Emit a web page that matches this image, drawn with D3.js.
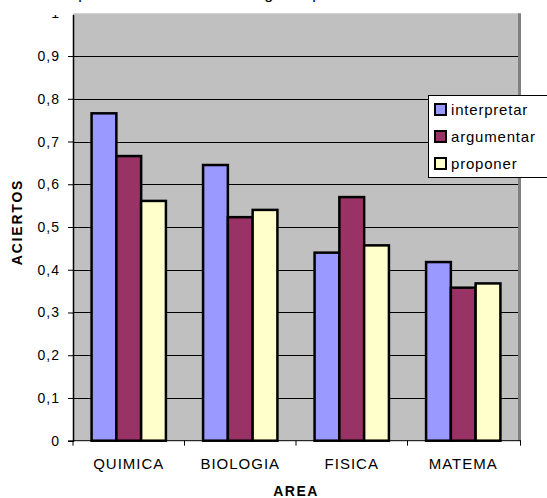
<!DOCTYPE html>
<html>
<head>
<meta charset="utf-8">
<script src="https://cdn.jsdelivr.net/npm/d3@7"></script>
<style>
  body { margin: 0; background: #fff; }
  text { font-family: Arial, "Liberation Sans", sans-serif; fill: #000; }
</style>
</head>
<body>
<div id="viz"></div>
<script>
const width = 547;
const height = 498;
const plot = {left: 73, right: 519, top: 13.3, bottom: 440.7};

const categories = ['QUIMICA', 'BIOLOGIA', 'FISICA', 'MATEMA'];
const series = ['interpretar', 'argumentar', 'proponer'];
const interpretar = [0.766, 0.645, 0.44, 0.418];
const argumentar = [0.666, 0.523, 0.57, 0.358];
const proponer = [0.561, 0.54, 0.457, 0.368];
const yTicks = [0, 0.1, 0.2, 0.3, 0.4, 0.5, 0.6, 0.7, 0.8, 0.9, 1];
const colors = ['#9999FF', '#993366', '#FFFFCC'];
const title = 'Aciertos promedio en cada área según la prueba';

const values = {interpretar, argumentar, proponer};

const svg = d3.select('#viz')
  .append('svg')
    .style('display', 'block')
    .attr('width', width)
    .attr('height', height);

const xScale = d3.scaleBand()
  .domain(categories)
  .range([plot.left, plot.right]);

// gap width 150% like the original spreadsheet chart
const xInner = d3.scaleBand()
  .domain(series)
  .range([0, xScale.bandwidth()])
  .paddingOuter(0.75);

const yScale = d3.scaleLinear()
  .domain([0, 1])
  .range([plot.bottom, plot.top]);

const color = d3.scaleOrdinal().domain(series).range(colors);

// title, mostly cut off at the top of the page
svg.append('text')
  .attr('x', 16)
  .attr('y', -1)
  .attr('font-size', 16)
  .text(title);

// plot background
svg.append('rect')
  .attr('x', plot.left)
  .attr('y', yScale(1))
  .attr('width', plot.right - plot.left)
  .attr('height', plot.bottom - yScale(1))
  .attr('fill', '#C0C0C0');

svg.append('line')
  .attr('x1', plot.right + 0.5).attr('x2', plot.right + 0.5)
  .attr('y1', yScale(1)).attr('y2', plot.bottom)
  .attr('stroke', '#808080')
  .attr('stroke-width', 3);

// gridlines
svg.append('g')
  .selectAll('line')
  .data(yTicks.filter(t => t > 0 && t < 1))
  .join('line')
    .attr('x1', plot.left)
    .attr('x2', plot.right - 1)
    .attr('y1', d => Math.round(yScale(d)) + 0.5)
    .attr('y2', d => Math.round(yScale(d)) + 0.5)
    .attr('stroke', '#000')
    .attr('stroke-width', 1);

// bars
const groups = svg.append('g')
  .selectAll('g')
  .data(categories)
  .join('g')
    .attr('transform', d => `translate(${xScale(d)},0)`);

groups.selectAll('rect')
  .data((c, i) => series.map(s => ({key: s, value: values[s][i]})))
  .join('rect')
    .attr('x', d => xInner(d.key))
    .attr('y', d => yScale(d.value))
    .attr('width', xInner.bandwidth())
    .attr('height', d => plot.bottom - yScale(d.value))
    .attr('fill', d => color(d.key))
    .attr('stroke', '#000')
    .attr('stroke-width', 2.5);

// y axis, labels clipped at the top like the source image
svg.append('clipPath')
  .attr('id', 'clipTop')
  .append('rect')
    .attr('x', -plot.left).attr('y', 15)
    .attr('width', width).attr('height', height);

const yAxis = svg.append('g')
  .attr('transform', `translate(${plot.left},0)`)
  .attr('clip-path', 'url(#clipTop)')
  .call(d3.axisLeft(yScale)
    .tickValues(yTicks)
    .tickSize(5)
    .tickPadding(8)
    .tickFormat(d => d3.format('.1~f')(d).replace('.', ',')));

yAxis.select('.domain').attr('stroke', '#000').attr('stroke-width', 1.5);
yAxis.selectAll('.tick line').attr('stroke', '#000');
yAxis.selectAll('.tick text')
  .attr('font-size', 14)
  .attr('letter-spacing', 1)
  .attr('font-family', 'Arial, "Liberation Sans", sans-serif')
  .attr('fill', '#000');

// x axis
const xAxis = svg.append('g')
  .attr('transform', `translate(0,${plot.bottom})`);

xAxis.append('line')
  .attr('x1', plot.left).attr('x2', plot.right + 2)
  .attr('stroke', '#000');

xAxis.selectAll('.xtick')
  .data(categories.concat(['end']))
  .join('line')
    .attr('class', 'xtick')
    .attr('x1', (d, i) => i < categories.length ? xScale(d) : plot.right + 1.5)
    .attr('x2', (d, i) => i < categories.length ? xScale(d) : plot.right + 1.5)
    .attr('y1', 0)
    .attr('y2', 5)
    .attr('stroke', '#000');

xAxis.selectAll('.xlabel')
  .data(categories)
  .join('text')
    .attr('class', 'xlabel')
    .attr('x', d => xScale(d) + xScale.bandwidth() / 2)
    .attr('y', 28)
    .attr('text-anchor', 'middle')
    .attr('font-size', 15)
    .attr('letter-spacing', 1)
    .text(d => d);

// axis titles
svg.append('text')
  .attr('x', 296)
  .attr('y', 496)
  .attr('text-anchor', 'middle')
  .attr('font-size', 14)
  .attr('font-weight', 'bold')
  .attr('letter-spacing', 1.5)
  .text('AREA');

svg.append('text')
  .attr('transform', 'translate(22,222) rotate(-90)')
  .attr('text-anchor', 'middle')
  .attr('font-size', 14)
  .attr('font-weight', 'bold')
  .attr('letter-spacing', 1.8)
  .text('ACIERTOS');

// legend
const legend = svg.append('g')
  .attr('transform', 'translate(428,95)');

legend.append('rect')
  .attr('x', 0.5).attr('y', 0.5)
  .attr('width', 140).attr('height', 82)
  .attr('fill', '#fff')
  .attr('stroke', '#000');

const items = legend.selectAll('.item')
  .data(series)
  .join('g')
    .attr('class', 'item')
    .attr('transform', (d, i) => `translate(0,${14 + i * 27})`);

items.append('rect')
  .attr('x', 7).attr('y', -5)
  .attr('width', 11).attr('height', 11)
  .attr('fill', d => color(d))
  .attr('stroke', '#000')
  .attr('stroke-width', 2);

items.append('text')
  .attr('x', 23)
  .attr('y', 5.5)
  .attr('font-size', 15)
  .attr('letter-spacing', 0.8)
  .text(d => d);
</script>
</body>
</html>
